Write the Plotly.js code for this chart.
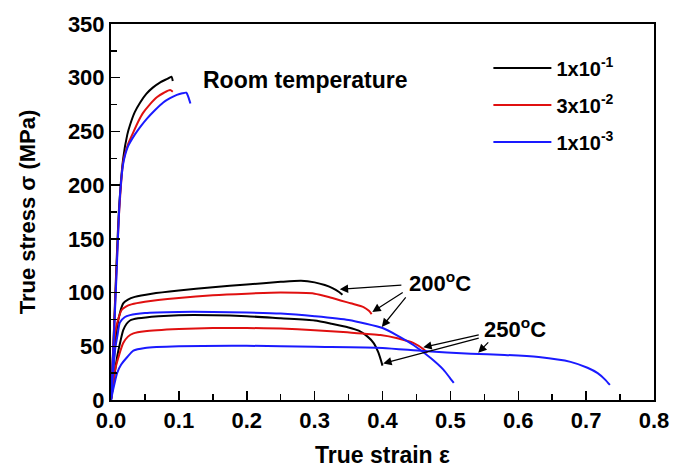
<!DOCTYPE html>
<html>
<head>
<meta charset="utf-8">
<script src="https://cdn.plot.ly/plotly-3.0.1.min.js"></script>
<style>html,body{margin:0;padding:0;background:#fff;}#chart{width:681px;height:471px;}</style>
</head>
<body>
<div id="chart"></div>
<script>
// ---- data ----
const rateLabels = ["1x10<sup>-1</sup>", "3x10<sup>-2</sup>", "1x10<sup>-3</sup>"];
const rateColors = ["#000000", "#e01010", "#1a1aff"];

// Room temperature
const rtX_1e1 = [0, 0.004, 0.008, 0.012, 0.018, 0.024, 0.028, 0.035, 0.043, 0.052, 0.062, 0.072, 0.083, 0.089, 0.091];
const rtY_1e1 = [0, 60, 125, 180, 225, 247, 256, 268, 277, 285, 291, 295.5, 299, 301, 297];
const rtX_3e2 = [0, 0.004, 0.008, 0.012, 0.018, 0.025, 0.032, 0.04, 0.047, 0.057, 0.068, 0.078, 0.087, 0.091];
const rtY_3e2 = [0, 58, 120, 175, 222, 238, 248, 259, 267, 275, 282, 286, 288.5, 287];
const rtX_1e3 = [0, 0.004, 0.008, 0.013, 0.018, 0.025, 0.035, 0.044, 0.053, 0.065, 0.077, 0.087, 0.097, 0.105, 0.111, 0.114, 0.117];
const rtY_1e3 = [0, 55, 115, 188, 220, 236, 247, 255, 262, 270, 277, 281, 284, 285.5, 286, 282, 276];

// 200 °C
const t200X_1e1 = [0, 0.004, 0.009, 0.014, 0.018, 0.025, 0.035, 0.06, 0.1, 0.15, 0.2, 0.25, 0.28, 0.3, 0.315, 0.327, 0.336, 0.341];
const t200Y_1e1 = [0, 35, 68, 83, 90, 93.5, 96, 99, 102, 105, 107.5, 110, 111, 109.5, 107, 104, 100.5, 98];
const t200X_3e2 = [0, 0.003, 0.006, 0.011, 0.016, 0.022, 0.03, 0.05, 0.1, 0.15, 0.2, 0.25, 0.3, 0.323, 0.353, 0.372, 0.38, 0.384];
const t200Y_3e2 = [0, 30, 62, 76, 84, 87, 89, 91.5, 95, 97.5, 99, 100, 99, 95.5, 90, 86.5, 83, 80];
const t200X_1e3 = [0, 0.003, 0.006, 0.01, 0.013, 0.02, 0.028, 0.05, 0.1, 0.15, 0.2, 0.25, 0.3, 0.35, 0.4, 0.422, 0.446, 0.471, 0.49, 0.5, 0.505];
const t200Y_1e3 = [0, 25, 47, 62, 72, 77, 79, 81, 82, 82, 81.5, 80.5, 78, 74.5, 67, 60, 51, 39, 28, 20, 16];

// 250 °C
const t250X_1e1 = [0, 0.004, 0.009, 0.014, 0.018, 0.023, 0.028, 0.04, 0.07, 0.1, 0.15, 0.2, 0.25, 0.3, 0.325, 0.35, 0.365, 0.378, 0.387, 0.394, 0.4];
const t250Y_1e1 = [0, 18, 40, 55, 65, 71, 74, 76, 78, 79, 79, 78, 76, 74, 71, 67.5, 64.5, 59, 53, 44, 32];
const t250X_3e2 = [0, 0.003, 0.006, 0.012, 0.018, 0.025, 0.033, 0.05, 0.1, 0.15, 0.2, 0.25, 0.3, 0.348, 0.397, 0.422, 0.446, 0.461, 0.466];
const t250Y_3e2 = [0, 14, 28, 42, 53, 59, 62, 64, 66, 67, 67, 66.5, 65, 63, 60.5, 57.5, 53, 47, 44];
const t250X_1e3 = [0, 0.004, 0.009, 0.015, 0.024, 0.033, 0.05, 0.1, 0.2, 0.3, 0.4, 0.46, 0.53, 0.58, 0.63, 0.677, 0.702, 0.717, 0.728, 0.735];
const t250Y_1e3 = [0, 12, 25, 33, 40, 46, 48.5, 50, 50.5, 49.5, 48.5, 45.5, 43, 42, 40, 35.5, 30, 25, 19, 14];

const xTickVals = [0, 0.1, 0.2, 0.3, 0.4, 0.5, 0.6, 0.7, 0.8];
const yTickVals = [0, 50, 100, 150, 200, 250, 300, 350];

// ---- traces ----
const seriesX = [[rtX_1e1, t200X_1e1, t250X_1e1], [rtX_3e2, t200X_3e2, t250X_3e2], [rtX_1e3, t200X_1e3, t250X_1e3]];
const seriesY = [[rtY_1e1, t200Y_1e1, t250Y_1e1], [rtY_3e2, t200Y_3e2, t250Y_3e2], [rtY_1e3, t200Y_1e3, t250Y_1e3]];
const traces = [];
for (let r = 0; r < 3; r++) {
  for (let k = 0; k < 3; k++) {
    traces.push({
      type: 'scatter', mode: 'lines',
      x: seriesX[r][k], y: seriesY[r][k],
      name: rateLabels[r], legendgroup: 'g' + r,
      showlegend: k === 0,
      line: {color: rateColors[r], width: 2, shape: 'spline', smoothing: 0.6}
    });
  }
}

const FONT = 'Arial, "Liberation Sans", sans-serif';
const arrow = (x, y, ax, ay) => ({
  x: x, y: y, ax: ax, ay: ay, xref: 'x', yref: 'y', axref: 'x', ayref: 'y',
  text: '', showarrow: true, arrowhead: 2, arrowsize: 1.4, arrowwidth: 1.2, arrowcolor: '#000', standoff: 0, startstandoff: 0
});

const annotations = [
  {x: 0.133, y: 298, xref: 'x', yref: 'y', text: 'Room temperature', showarrow: false, xanchor: 'left', yanchor: 'middle',
   font: {family: FONT, size: 23, color: '#000', weight: 'bold'}},
  {x: 0.436, y: 110, xref: 'x', yref: 'y', text: '200<sup>o</sup>C', showarrow: false, xanchor: 'left', yanchor: 'middle',
   font: {family: FONT, size: 22, color: '#000', weight: 'bold'}},
  {x: 0.546, y: 67, xref: 'x', yref: 'y', text: '250<sup>o</sup>C', showarrow: false, xanchor: 'left', yanchor: 'middle',
   font: {family: FONT, size: 22, color: '#000', weight: 'bold'}},
  arrow(0.337, 103, 0.430, 107),
  arrow(0.385, 82, 0.432, 101),
  arrow(0.399, 68, 0.436, 97),
  arrow(0.460, 49, 0.544, 61),
  arrow(0.401, 34, 0.544, 58),
  arrow(0.541, 44, 0.558, 55)
];

const layout = {
  width: 681, height: 471,
  margin: {l: 111, r: 27, t: 24, b: 71},
  paper_bgcolor: '#fff', plot_bgcolor: '#fff',
  showlegend: true,
  legend: {x: 0.695, y: 0.935, xanchor: 'left', yanchor: 'top', bgcolor: 'rgba(0,0,0,0)',
           font: {family: FONT, size: 20, color: '#000', weight: 'bold'},
           itemwidth: 58, tracegroupgap: 8},
  xaxis: {
    range: [0, 0.8], tickvals: xTickVals, tickformat: '.1f',
    ticks: 'inside', ticklen: 9, tickwidth: 1.5, tickcolor: '#000',
    minor: {dtick: 0.05, ticks: 'inside', ticklen: 6, tickwidth: 1.5, tickcolor: '#000'},
    showline: true, linecolor: '#000', linewidth: 2, mirror: true,
    showgrid: false, zeroline: false,
    tickfont: {family: FONT, size: 22, color: '#000', weight: 'bold'},
    title: {text: 'True strain ε', font: {family: FONT, size: 23, color: '#000', weight: 'bold'}, standoff: 14}
  },
  yaxis: {
    range: [0, 350], tickvals: yTickVals,
    ticks: 'inside', ticklen: 9, tickwidth: 1.5, tickcolor: '#000',
    minor: {dtick: 25, ticks: 'inside', ticklen: 6, tickwidth: 1.5, tickcolor: '#000'},
    showline: true, linecolor: '#000', linewidth: 2, mirror: true,
    showgrid: false, zeroline: false,
    tickfont: {family: FONT, size: 22, color: '#000', weight: 'bold'},
    title: {text: 'True stress σ (MPa)', font: {family: FONT, size: 22, color: '#000', weight: 'bold'}, standoff: 26}
  },
  annotations: annotations
};

Plotly.newPlot('chart', traces, layout, {displayModeBar: false, staticPlot: true});
</script>
</body>
</html>
